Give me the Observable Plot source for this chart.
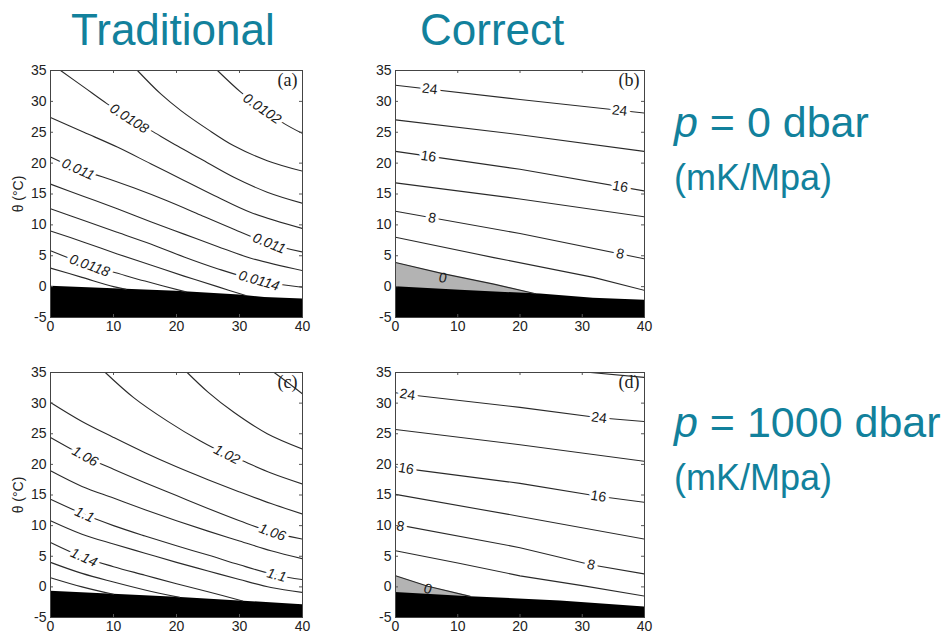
<!DOCTYPE html>
<html>
<head>
<meta charset="utf-8">
<script src="https://cdn.jsdelivr.net/npm/d3@7"></script>
<script src="https://cdn.jsdelivr.net/npm/@observablehq/plot@0.6"></script>
<style>
  body { margin: 0; background: #fff; }
  #page { position: relative; width: 946px; height: 635px; overflow: hidden;
          font-family: "Liberation Sans", Arial, sans-serif; background: #fff; }
  .hd { position: absolute; color: #12819c; white-space: nowrap; line-height: 1; }
  .panel { position: absolute; }
</style>
</head>
<body>
<div id="page">
  <div class="hd" style="left:71px; top:8px; font-size:44px;">Traditional</div>
  <div class="hd" style="left:420px; top:8px; font-size:44px;">Correct</div>
  <div class="hd" style="left:674px; top:101px; font-size:43px;"><i>p</i> = 0 dbar</div>
  <div class="hd" style="left:674px; top:160px; font-size:36px;">(mK/Mpa)</div>
  <div class="hd" style="left:674px; top:401px; font-size:43px;"><i>p</i> = 1000 dbar</div>
  <div class="hd" style="left:674px; top:460px; font-size:36px;">(mK/Mpa)</div>
  <div class="panel" id="pa" style="left:0px; top:60px;"></div>
  <div class="panel" id="pb" style="left:345px; top:60px;"></div>
  <div class="panel" id="pc" style="left:0px; top:362px;"></div>
  <div class="panel" id="pd" style="left:345px; top:362px;"></div>
</div>
<script>
// Axes: salinity S (g/kg) across, potential temperature θ (°C) up
const sDomain = [0, 40];
const thetaDomain = [-5, 35];
const sTicks = [0, 10, 20, 30, 40];
const thetaTicks = [-5, 0, 5, 10, 15, 20, 25, 30, 35];

// ---- (a) traditional, p = 0 dbar : contour lines as [S, θ] ----
const tradSurfaceLines = [
  [[26.5,35],[30.2,31.5],[33.4,29.0],[37.1,26.4],[40,24.8]],
  [[13.8,35],[17.5,31.2],[20.7,28.5],[24.9,25.5],[29.1,22.8],[34.4,20.4],[40,18.7]],
  [[1.6,35],[5.3,32.3],[9.0,29.6],[12.5,27.3],[15.9,25.3],[20.1,22.8],[23.8,20.7],[29.1,17.7],[34.4,15.3],[40,13.5]],
  [[0,27.4],[5.3,25.0],[10.6,22.6],[15.9,19.9],[21.2,17.2],[26.5,14.5],[31.8,12.0],[40,9.4]],
  [[0,21.0],[4.4,19.0],[8.2,17.8],[13.2,16.0],[18.5,13.9],[23.8,11.6],[29.1,9.3],[34.7,7.0],[40,5.6]],
  [[0,16.6],[5.3,14.6],[10.6,12.6],[15.9,10.5],[21.2,8.5],[26.5,6.5],[31.8,4.6],[40,2.6]],
  [[0,12.6],[5.3,10.7],[10.6,8.8],[15.9,6.9],[21.2,4.8],[26.5,2.9],[33.1,0.95],[40,-0.1]],
  [[0,9.0],[5.3,7.2],[10.6,5.3],[15.9,3.5],[21.2,1.7],[26.5,0.0],[31,-1.45]],
  [[0,5.8],[3,4.6],[6.2,3.4],[9.8,2.4],[15,0.9],[21.5,-0.85]],
  [[0,3.0],[5,1.5],[10,0.0],[12,-0.45]]
];
const tradSurfaceLabels = [
  {text: "0.0102", line: 0, S: 33.6, theta: 28.8},
  {text: "0.0108", line: 2, S: 12.5, theta: 27.2},
  {text: "0.011",  line: 4, S: 4.4,  theta: 19.0},
  {text: "0.011",  line: 4, S: 34.7, theta: 7.0},
  {text: "0.0114", line: 6, S: 33.1, theta: 0.95},
  {text: "0.0118", line: 8, S: 6.2,  theta: 3.4}
];
const freezeSurfaceTrad = [[0,0.05],[10,-0.35],[20,-0.75],[30,-1.35],[34,-1.75],[40,-2.0]];

// ---- (b) correct, p = 0 dbar ----
const corrSurfaceLines = [
  [[0,32.6],[20,30.3],[40,28.1]],
  [[0,27.0],[20,24.6],[40,21.9]],
  [[0,21.9],[20,19.0],[40,15.5]],
  [[0,16.8],[20,14.2],[40,11.3]],
  [[0,12.2],[20,8.6],[40,4.5]],
  [[0,8.0],[15.8,4.7],[31.8,1.5],[40,-0.6]],
  [[0,3.9],[7.6,2.1],[15.8,0.4],[22.5,-1.15]]
];
const corrSurfaceLabels = [
  {text: "24", line: 0, S: 5.5,  theta: 32.0},
  {text: "24", line: 0, S: 36.0, theta: 28.5},
  {text: "16", line: 2, S: 5.3,  theta: 21.1},
  {text: "16", line: 2, S: 36.1, theta: 16.2},
  {text: "8",  line: 4, S: 5.9,  theta: 11.1},
  {text: "8",  line: 4, S: 36.1, theta: 5.3},
  {text: "0",  line: 6, S: 7.6,  theta: 1.4}
];
const corrSurfaceZero = 6;
const freezeSurfaceCorr = [[0,0],[10.4,-0.6],[23.3,-1.2],[31.8,-1.9],[40,-2.2]];

// ---- (c) traditional, p = 1000 dbar ----
const tradDeepLines = [
  [[35.5,35],[37.6,33.4],[40,31.5]],
  [[21.7,35],[25,31.8],[29.1,28.5],[34.4,25.0],[40,22.5]],
  [[8.7,35],[13.2,30.9],[18.5,27.1],[23.8,23.8],[28,21.6],[30.2,20.7],[35,18.6],[40,16.8]],
  [[0,30.1],[5,27.0],[10,24.4],[15,21.9],[20,19.6],[25,17.5],[30,15.5],[35,13.6],[40,11.9]],
  [[0,24.4],[5.5,21.3],[10,19.2],[15,17.0],[20,14.9],[25,12.8],[30,10.8],[35.2,8.9],[40,7.8]],
  [[0,18.95],[5,16.4],[10,14.5],[15,12.6],[20,10.8],[25,9.1],[30,7.5],[35,5.9],[40,4.6]],
  [[0,14.3],[5.4,11.8],[10,10.0],[15,8.3],[20,6.7],[25,5.2],[30,3.6],[35.9,1.9],[40,1.2]],
  [[0,10.8],[5,8.6],[10,7.0],[15,5.5],[20,4.0],[25,2.6],[30,1.2],[35,-0.1],[40,-0.9]],
  [[0,7.25],[5.3,4.8],[10,3.3],[15,1.9],[20,0.5],[25,-0.8],[30.5,-2.3]],
  [[0,4.0],[5,2.2],[10,0.8],[15,-0.5],[20.5,-1.72]],
  [[0,1.5],[5,0.0],[10,-1.2]]
];
const tradDeepLabels = [
  {text: "1.02", line: 2, S: 28.0, theta: 21.6},
  {text: "1.06", line: 4, S: 5.5,  theta: 21.3},
  {text: "1.06", line: 4, S: 35.2, theta: 8.9},
  {text: "1.1",  line: 6, S: 5.4,  theta: 11.8},
  {text: "1.1",  line: 6, S: 35.9, theta: 1.9},
  {text: "1.14", line: 8, S: 5.3,  theta: 4.8}
];
const freezeDeepTrad = [[0,-0.7],[10,-1.2],[20,-1.7],[30,-2.3],[40,-2.9]];

// ---- (d) correct, p = 1000 dbar ----
const corrDeepLines = [
  [[31.3,35],[40,34.2]],
  [[0,31.7],[1.9,31.4],[20,29.3],[32.7,27.6],[40,27.0]],
  [[0,25.7],[20,23.2],[40,20.5]],
  [[0,19.6],[1.7,19.3],[20,16.9],[32.6,14.8],[40,13.8]],
  [[0,15.1],[20,11.5],[40,7.8]],
  [[0,10.2],[20,6.4],[31.4,3.6],[40,2.1]],
  [[0,5.9],[10,3.9],[20,1.8],[30,0.2],[40,-1.5]],
  [[0,1.8],[5.2,0.1],[12,-1.55]]
];
const corrDeepLabels = [
  {text: "24", line: 1, S: 1.9,  theta: 31.4},
  {text: "24", line: 1, S: 32.7, theta: 27.6},
  {text: "16", line: 3, S: 1.7,  theta: 19.3},
  {text: "16", line: 3, S: 32.6, theta: 14.8},
  {text: "8",  line: 5, S: 0.8,  theta: 9.9},
  {text: "8",  line: 5, S: 31.4, theta: 3.6},
  {text: "0",  line: 7, S: 5.2,  theta: -0.35}
];
const corrDeepZero = 7;
const freezeDeepCorr = [[0,-0.9],[12,-1.6],[26.5,-2.3],[40,-3.3]];

// Slope of a polyline at salinity s, turned into an on-screen text angle
function labelAngle(line, s, kx, ky) {
  let i = 0;
  while (i < line.length - 2 && line[i + 1][0] < s) i++;
  const [s0, t0] = line[i], [s1, t1] = line[i + 1];
  const slope = (t1 - t0) / (s1 - s0);
  return Math.atan(-slope * ky / kx) * 180 / Math.PI;
}

const subFreezingGrey = "#b3b3b3";

function contourPanel({lines, labels, freeze, zero = null, tag, italic, yLabel, height}) {
  const width = 315;
  const marginLeft = 50, marginRight = yLabel ? 13 : 16, marginTop = 10, marginBottom = 18;
  const fw = width - marginLeft - marginRight, fh = height - marginTop - marginBottom;
  const kx = fw / (sDomain[1] - sDomain[0]);
  const ky = fh / (thetaDomain[1] - thetaDomain[0]);
  const placed = labels.map(d => ({...d, angle: labelAngle(lines[d.line], d.S, kx, ky)}));
  // labels on ordinary contours break their line with a white halo;
  // the zero-contour label sits inside the grey area and is drawn plain
  const onWhite = placed.filter(d => d.line !== zero);
  const onGrey = placed.filter(d => d.line === zero);
  const S = d => d[0], T = d => d[1];
  const tick = 3;
  const tickStyle = {stroke: "#555", strokeWidth: 1};
  const labelStyle = {x: "S", y: "theta", text: "text", rotate: "angle", fill: "#1a1a1a", fontSize: 14,
                      fontStyle: italic ? "italic" : "normal"};
  return Plot.plot({
    width, height, marginLeft, marginRight, marginTop, marginBottom,
    style: {background: "white", color: "#222", fontFamily: "Liberation Sans, Arial, sans-serif", fontSize: "14px"},
    x: {domain: sDomain, ticks: sTicks, tickSize: 0, tickPadding: 4, tickFormat: d => `${d}`, label: null},
    y: {domain: thetaDomain, ticks: thetaTicks, tickSize: 0, tickPadding: 4, tickFormat: d => `${d}`,
        label: yLabel ? "θ (°C)" : null, labelAnchor: "center", labelArrow: "none", labelOffset: 37},
    marks: [
      zero !== null ? Plot.areaY(lines[zero], {x: S, y1: thetaDomain[0], y2: T, fill: subFreezingGrey, clip: true}) : null,
      Plot.areaY(freeze, {x: S, y1: thetaDomain[0], y2: T, fill: "black", clip: true}),
      ...lines.map(l => Plot.line(l, {x: S, y: T, stroke: "#2a2a2a", strokeWidth: 1.1,
                                      curve: italic ? "catmull-rom" : "linear", clip: true})),
      Plot.text(onWhite, {...labelStyle, stroke: "white", strokeWidth: 7}),
      Plot.text(onGrey, labelStyle),
      // inward ticks on all four sides of the frame
      Plot.tickY(thetaTicks, {y: d => d, insetRight: fw - tick, ...tickStyle}),
      Plot.tickY(thetaTicks, {y: d => d, insetLeft: fw - tick, ...tickStyle}),
      Plot.tickX(sTicks, {x: d => d, insetTop: fh - tick, ...tickStyle}),
      Plot.tickX(sTicks, {x: d => d, insetBottom: fh - tick, ...tickStyle}),
      Plot.text([tag], {frameAnchor: "top-right", dx: -5, dy: 3, lineAnchor: "top",
                        fontFamily: "Liberation Serif, Times New Roman, serif", fontSize: 18, fill: "#222"}),
      Plot.frame({stroke: "#444"})
    ]
  });
}

document.getElementById("pa").append(contourPanel({lines: tradSurfaceLines, labels: tradSurfaceLabels,
  freeze: freezeSurfaceTrad, tag: "(a)", italic: true, yLabel: true, height: 275}));
document.getElementById("pb").append(contourPanel({lines: corrSurfaceLines, labels: corrSurfaceLabels,
  freeze: freezeSurfaceCorr, zero: corrSurfaceZero, tag: "(b)", italic: false, yLabel: false, height: 275}));
document.getElementById("pc").append(contourPanel({lines: tradDeepLines, labels: tradDeepLabels,
  freeze: freezeDeepTrad, tag: "(c)", italic: true, yLabel: true, height: 273}));
document.getElementById("pd").append(contourPanel({lines: corrDeepLines, labels: corrDeepLabels,
  freeze: freezeDeepCorr, zero: corrDeepZero, tag: "(d)", italic: false, yLabel: false, height: 273}));
</script>
</body>
</html>
